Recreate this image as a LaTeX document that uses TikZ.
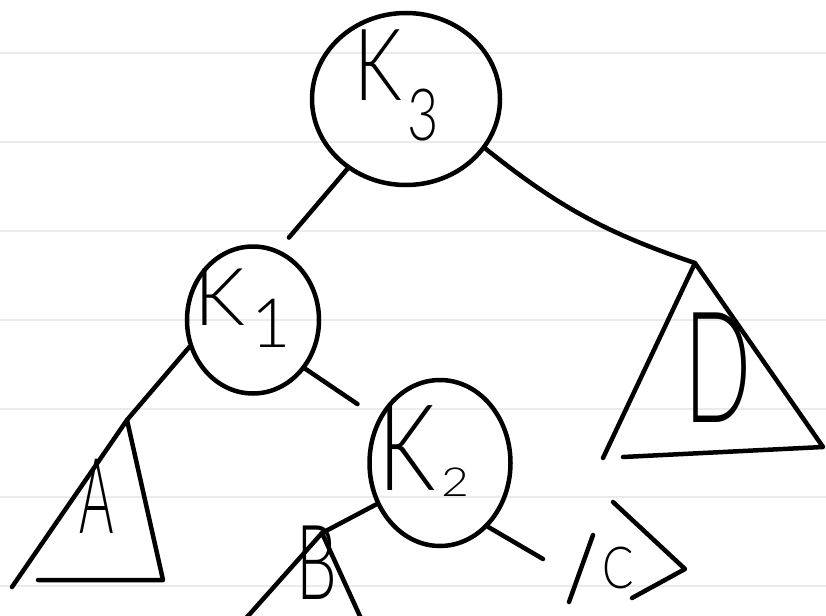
\documentclass[tikz,border=0pt]{standalone}
\usepackage{fontspec}
\setmainfont{Lato}[UprightFont=* Light]
\usetikzlibrary{shapes.geometric}
\newcommand\hw[3]{\fontsize{#1}{#1}\selectfont\scalebox{#2}[1]{#3}}

\begin{document}
\begin{tikzpicture}[
  x=1pt,y=-1pt,
  line width=4.5pt, line cap=round, line join=round,
  rule/.style={draw=black!8, line width=2.5pt},
  keynode/.style={draw, ellipse, inner sep=0pt},
  lbl/.style={inner sep=0pt, anchor=base west},
  edge/.style={draw},
  sub/.style={draw},
]
\useasboundingbox (0,0) rectangle (826,615);

% Ruled paper
\foreach \y in {53,142,231,320,409,497,586}
  \draw[rule] (0,\y) -- (826,\y);

% Keys
\node[keynode, minimum width=188pt, minimum height=172pt] (k3) at (406,99) {};
\node[lbl] (k3t) at (352,100) {\hw{100}{0.75}{K\hspace{8pt}\raisebox{-40pt}{\fontsize{72}{72}\selectfont 3}}};

\node[keynode, minimum width=132pt, minimum height=147pt] (k1) at (253,320) {};
\node[lbl] (k1t) at (192,325) {\hw{80}{1}{K\hspace{6pt}\raisebox{-22pt}{\fontsize{68}{68}\selectfont 1}}};

\node[keynode, minimum width=141pt, minimum height=166pt] (k2) at (440,463) {};
\node[lbl] (k2t) at (376,490) {\hw{120}{0.75}{K\hspace{8pt}\raisebox{-6pt}{\scalebox{1.6}[1]{\fontsize{40}{40}\selectfont 2}}}};

% Subtrees
\coordinate (atop) at (127,420);
\coordinate (aleft) at (12,587);
\coordinate (aright) at (163,580);
\coordinate (abase) at (38,580);
\draw[sub] (aleft) -- (atop) -- (aright) -- (abase);
\node[lbl] (alabel) at (77,533) {\hw{105}{0.5}{A}};

\coordinate (btop) at (322,533);
\coordinate (bleft) at (240,625);
\coordinate (bright) at (364,625);
\draw[sub] (bleft) -- (btop) -- (bright);
\node[lbl] (blabel) at (294,599) {\hw{104}{0.62}{B}};

\coordinate (cin) at (543,559);
\coordinate (c1) at (593,535);
\coordinate (c2) at (569,602);
\coordinate (c3) at (613,502);
\coordinate (c4) at (685,569);
\coordinate (c5) at (632,598);
\draw[sub] (c1) -- (c2);
\draw[sub] (c3) -- (c4) -- (c5);
\node[lbl] (clabel) at (600,588) {\hw{58}{0.8}{C}};

\coordinate (dtop) at (695,263);
\coordinate (dleft) at (603,458);
\coordinate (dright) at (823,447);
\coordinate (dbase) at (623,457);
\draw[sub] (dleft) -- (dtop) -- (dright) -- (dbase);
\node[lbl] (dlabel) at (682,422) {\hw{155}{0.57}{D}};

% Edges
\draw[edge, shorten >=16pt] (k3.230) -- (k1.70);
\draw[edge] (k3.328) to[bend right=10] (dtop);
\draw[edge] (k1.203) -- (atop);
\draw[edge, shorten >=25pt] (k1.317) -- (k2.144);
\draw[edge] (k2.213) -- (btop);
\draw[edge] (k2.307) -- (cin);

\end{tikzpicture}
\end{document}
